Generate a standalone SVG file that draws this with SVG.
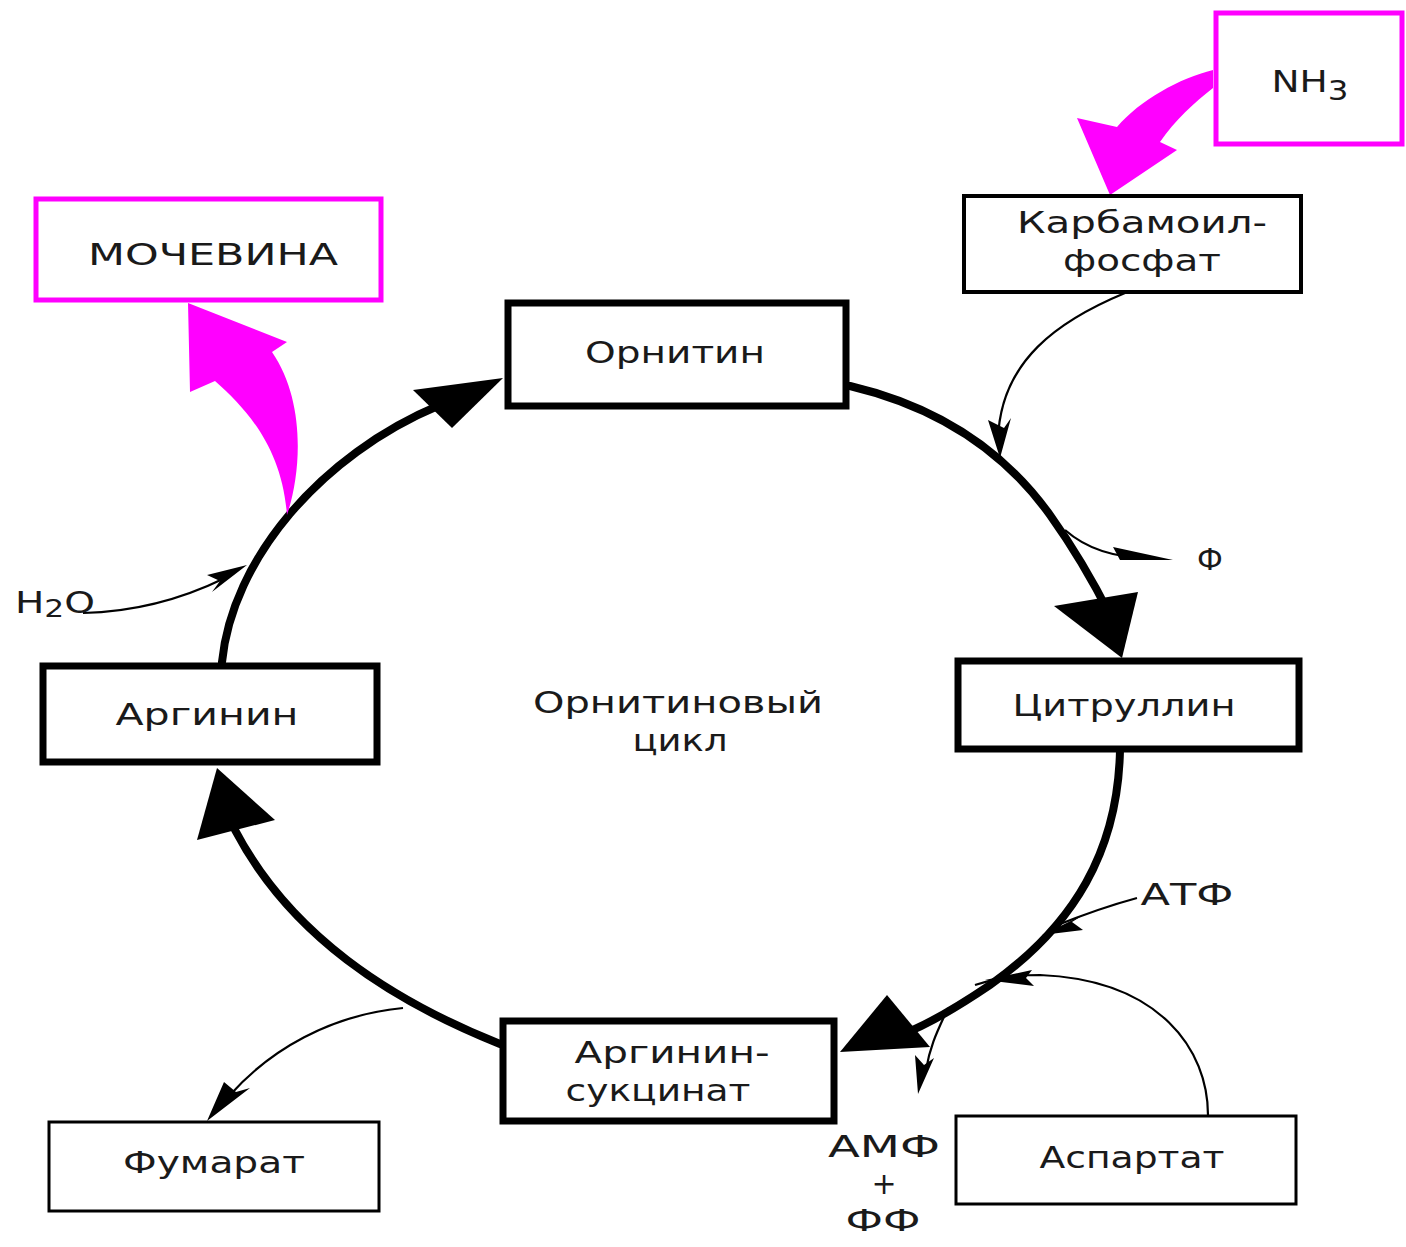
<svg xmlns="http://www.w3.org/2000/svg" width="1406" height="1247" viewBox="0 0 1406 1247">
<style>
.t{font-family:"DejaVu Sans","Open Sans",sans-serif;font-size:30px;fill:#1a1a1a;text-anchor:middle}
.bx{fill:#fff;stroke:#000}
.thick{stroke-width:7}
.mid{stroke-width:4}
.thin{stroke-width:3}
.mag{fill:#fff;stroke:#f0f;stroke-width:5}
.main{fill:none;stroke:#000;stroke-width:8;stroke-linecap:round}
.side{fill:none;stroke:#000;stroke-width:2.2}
.head{fill:#000}
.mh{fill:#f0f}
</style>
<rect width="1406" height="1247" fill="#fff"/>
<g id="connectors">
  <path class="main" d="M222 662 C232 560 320 455 440 405"/>
  <polygon class="head" points="503,378 413,390 452,428"/>
  <path class="main" d="M850 386 C930 405 1000 445 1050 515 C1075 550 1095 585 1110 615"/>
  <polygon class="head" points="1122,658 1054,606 1138,592"/>
  <path class="main" d="M1120 750 C1118 850 1075 925 990 985 C950 1012 920 1028 900 1035"/>
  <polygon class="head" points="840,1052 887,995 930,1047"/>
  <path class="main" d="M500 1044 C390 1000 290 935 235 830"/>
  <polygon class="head" points="217,768 197,840 275,820"/>
  <path class="side" d="M1125 293 C1060 320 1000 360 998 440"/>
  <polygon class="head" points="1000,458 988,420 1004,428 1011,418"/>
  <path class="side" d="M1065 530 C1090 552 1120 558 1150 558"/>
  <polygon class="head" points="1173,560 1113,547 1120,560"/>
  <path class="side" d="M1137 898 C1100 908 1075 918 1055 926"/>
  <polygon class="head" points="1042,935 1085,914 1072,922 1083,930"/>
  <path class="side" d="M1208 1115 C1208 1050 1160 980 1040 975 C1010 975 990 980 975 985"/>
  <polygon class="head" points="985,980 1032,970 1026,978 1034,986"/>
  <path class="side" d="M948 1008 C938 1030 930 1045 926 1070"/>
  <polygon class="head" points="918,1094 915,1055 924,1065 934,1058"/>
  <path class="side" d="M403 1008 C330 1015 270 1050 230 1095"/>
  <polygon class="head" points="207,1121 224,1082 236,1092 250,1088"/>
  <path class="side" d="M83 613 C130 612 180 600 225 578"/>
  <polygon class="head" points="247,565 207,575 220,581 212,592"/>
  <path class="mh" d="M287 515 C302 470 305 400 272 352 L287 342 L188 303 L190 392 L215 381 C250 412 282 450 287 515 Z"/>
  <path class="mh" d="M1213 70 C1180 78 1140 100 1117 127 L1077 118 L1110 195 L1177 150 L1160 142 C1175 120 1195 102 1213 88 Z"/>
</g>
<g id="n-nh3"><rect class="mag" x="1216" y="13" width="186" height="131"/><text class="t" x="1310" y="92" textLength="77" lengthAdjust="spacingAndGlyphs">NH<tspan font-size="26" dy="8">3</tspan></text></g>
<g id="n-karb"><rect class="bx mid" x="964" y="196" width="337" height="96"/><text class="t" x="1142" y="233" textLength="250" lengthAdjust="spacingAndGlyphs">Карбамоил-</text><text class="t" x="1142" y="271" textLength="158" lengthAdjust="spacingAndGlyphs">фосфат</text></g>
<g id="n-moch"><rect class="mag" x="36" y="199" width="345" height="101"/><text class="t" x="213" y="265" textLength="250" lengthAdjust="spacingAndGlyphs">МОЧЕВИНА</text></g>
<g id="n-orn"><rect class="bx thick" x="508" y="303" width="338" height="103"/><text class="t" x="675" y="363" textLength="180" lengthAdjust="spacingAndGlyphs">Орнитин</text></g>
<g id="n-cit"><rect class="bx thick" x="958" y="661" width="341" height="88"/><text class="t" x="1124" y="716" textLength="223" lengthAdjust="spacingAndGlyphs">Цитруллин</text></g>
<g id="n-arg"><rect class="bx thick" x="43" y="666" width="334" height="96"/><text class="t" x="207" y="725" textLength="183" lengthAdjust="spacingAndGlyphs">Аргинин</text></g>
<g id="n-center"><text class="t" x="678" y="713" textLength="290" lengthAdjust="spacingAndGlyphs">Орнитиновый</text><text class="t" x="680" y="751" textLength="95" lengthAdjust="spacingAndGlyphs">цикл</text></g>
<g id="n-argsuc"><rect class="bx thick" x="503" y="1021" width="331" height="100"/><text class="t" x="672" y="1063" textLength="195" lengthAdjust="spacingAndGlyphs">Аргинин-</text><text class="t" x="658" y="1101" textLength="185" lengthAdjust="spacingAndGlyphs">сукцинат</text></g>
<g id="n-fum"><rect class="bx thin" x="49" y="1122" width="330" height="89"/><text class="t" x="214" y="1173" textLength="182" lengthAdjust="spacingAndGlyphs">Фумарат</text></g>
<g id="n-asp"><rect class="bx thin" x="956" y="1116" width="340" height="88"/><text class="t" x="1132" y="1168" textLength="185" lengthAdjust="spacingAndGlyphs">Аспартат</text></g>
<g id="labels">
  <text class="t" x="1210" y="570">Ф</text>
  <text class="t" x="1187" y="905" textLength="93" lengthAdjust="spacingAndGlyphs">АТФ</text>
  <text class="t" x="884" y="1157" textLength="112" lengthAdjust="spacingAndGlyphs">АМФ</text>
  <text class="t" x="884" y="1194">+</text>
  <text class="t" x="883" y="1231" textLength="75" lengthAdjust="spacingAndGlyphs">ФФ</text>
  <text class="t" x="55" y="613" textLength="80" lengthAdjust="spacingAndGlyphs">H<tspan font-size="24" dy="4">2</tspan><tspan dy="-4">O</tspan></text>
</g>
</svg>
